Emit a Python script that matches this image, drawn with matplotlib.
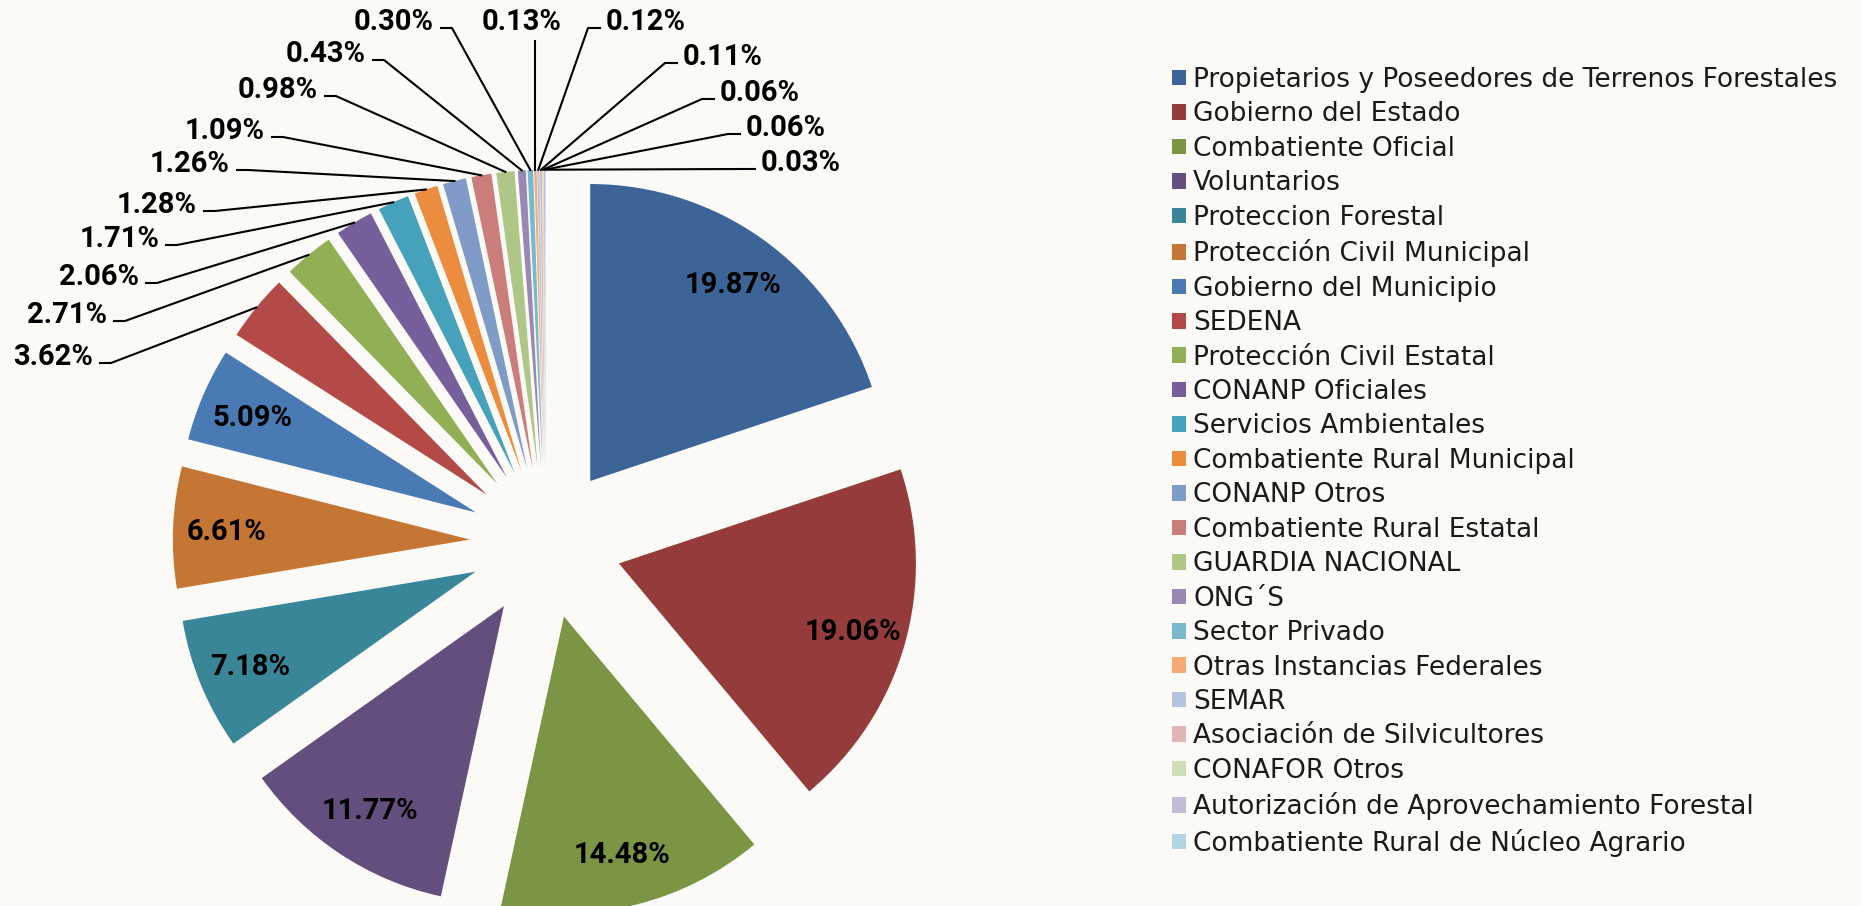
import numpy as np
import matplotlib.pyplot as plt

plt.rcParams['font.family'] = ['Roboto', 'DejaVu Sans']

categorias = [
    'Propietarios y Poseedores de Terrenos Forestales', 'Gobierno del Estado',
    'Combatiente Oficial', 'Voluntarios', 'Proteccion Forestal',
    'Protección Civil Municipal', 'Gobierno del Municipio', 'SEDENA',
    'Protección Civil Estatal', 'CONANP Oficiales', 'Servicios Ambientales',
    'Combatiente Rural Municipal', 'CONANP Otros', 'Combatiente Rural Estatal',
    'GUARDIA NACIONAL', 'ONG´S', 'Sector Privado', 'Otras Instancias Federales',
    'SEMAR', 'Asociación de Silvicultores', 'CONAFOR Otros',
    'Autorización de Aprovechamiento Forestal', 'Combatiente Rural de Núcleo Agrario',
]
porcentajes = [19.87, 19.06, 14.48, 11.77, 7.18, 6.61, 5.09, 3.62, 2.71, 2.06,
               1.71, 1.28, 1.26, 1.09, 0.98, 0.43, 0.30, 0.13, 0.12, 0.11,
               0.06, 0.06, 0.03]
colores = ['#3C6496', '#963B3B', '#7A9544', '#634E7E', '#388697', '#C57634',
           '#4A7AB4', '#B44A48', '#91AF55', '#775F9B', '#46A2BA', '#EC8C3F',
           '#7F9CC9', '#CB7D7C', '#AEC686', '#9A88B4', '#78B9CD', '#F7A873',
           '#B4C3DE', '#E0B5B5', '#CEDDBA', '#C3BAD4', '#B2D6E1']

# posicion de las etiquetas externas (px de imagen, y desde arriba): x, y centro, lado
pos_etiquetas = [
    (93, 355, 'L'), (107, 313, 'L'), (139, 275, 'L'), (159, 237, 'L'),
    (197, 203, 'L'), (230, 162, 'L'), (265, 129, 'L'), (318, 88, 'L'),
    (366, 52, 'L'), (434, 20, 'L'), (522, 20, 'C'), (606, 20, 'R'),
    (683, 55, 'R'), (720, 91, 'R'), (746, 126, 'R'), (761, 161, 'R'),
]

W, H = 1862, 906
fondo = '#FBFAF7'
fig = plt.figure(figsize=(W / 100, H / 100), dpi=100, facecolor=fondo)
ax = fig.add_axes([0, 0, 1, 1])
ax.set_facecolor(fondo)

cx, cy, r = 545.8, H - 542.7, 297
wedges, _ = ax.pie(porcentajes, colors=colores, radius=r, center=(cx, cy),
                   startangle=90, counterclock=False,
                   explode=[76] * len(porcentajes))
ax.set_xlim(0, W)
ax.set_ylim(0, H)
ax.set_aspect('equal')
ax.axis('off')

fs = 21
k = 0
for w, val in zip(wedges, porcentajes):
    ang = np.deg2rad((w.theta1 + w.theta2) / 2)
    d = np.array([np.cos(ang), np.sin(ang)])
    wc = np.array(w.center)
    txt = f'{val:.2f}%'
    if val >= 5:
        p = wc + 0.82 * r * d
        ax.text(p[0], p[1] - 10, txt, ha='center', va='baseline',
                fontsize=fs, fontweight='bold', color='black')
        continue
    x, yc, lado = pos_etiquetas[k]
    k += 1
    P = wc + r * d
    yb = H - (yc + 10)
    ys = H - (yc + 8)
    if lado == 'L':
        ax.text(x, yb, txt, ha='right', va='baseline', fontsize=fs,
                fontweight='bold', color='black')
        ax.plot([P[0], x + 18, x + 7], [P[1], ys, ys], color='black', lw=1.5)
    elif lado == 'R':
        ax.text(x, yb, txt, ha='left', va='baseline', fontsize=fs,
                fontweight='bold', color='black')
        ax.plot([P[0], x - 18, x - 6], [P[1], ys, ys], color='black', lw=1.5)
    else:
        ax.text(x, yb, txt, ha='center', va='baseline', fontsize=fs,
                fontweight='bold', color='black')
        ax.plot([P[0], P[0]], [P[1], H - (yc + 21)], color='black', lw=1.5)

fig.legend(wedges, categorias, loc='upper left',
           bbox_to_anchor=(1172 / W, 1 - 67 / H), frameon=False,
           prop={'family': ['DejaVu Sans'], 'size': 19},
           labelcolor='#1a1a1a', handlelength=0.53, handleheight=0.53,
           handletextpad=0.27, labelspacing=0.32, borderpad=0, borderaxespad=0)

fig.savefig('out.png', dpi=100, facecolor=fondo)
